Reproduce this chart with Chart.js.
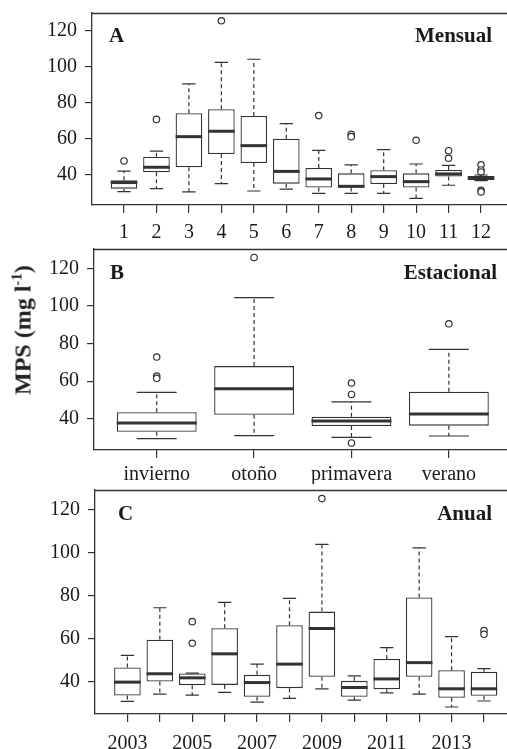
<!DOCTYPE html>
<html><head><meta charset="utf-8">
<script src="https://cdn.jsdelivr.net/npm/chart.js@4"></script>
<style>
html,body{margin:0;padding:0;background:#fff;width:507px;height:749px;overflow:hidden;position:relative;}
canvas{position:absolute;left:0;}
#ytitle{position:absolute;left:23px;top:330px;transform:translate(-50%,-50%) rotate(-90deg);font:bold 24px "Liberation Serif";white-space:nowrap;color:#222;}
#ytitle sup{font-size:15px;vertical-align:9px;line-height:0;}
</style></head><body>
<canvas id="cA" width="507" height="245" style="top:0px"></canvas>
<canvas id="cB" width="507" height="239" style="top:245px"></canvas>
<canvas id="cC" width="507" height="265" style="top:484px"></canvas>
<div id="ytitle">MPS (mg l<sup>-1</sup>)</div>
<script>
// ---- data ----
const yTicks = [40, 60, 80, 100, 120];

const monthLabels = ['1','2','3','4','5','6','7','8','9','10','11','12'];
const monthLow  = [30.8, 32.4, 30.6, 35.2, 31.1, 32.2, 29.8, 29.8, 29.8, 27.0, 34.3, 36.9];
const monthQ1   = [32.4, 41.5, 44.3, 51.7, 46.7, 35.2, 33.0, 33.0, 35.0, 33.0, 39.1, 37.2];
const monthMed  = [35.8, 44.3, 61.3, 64.3, 56.3, 42.0, 37.8, 33.7, 39.1, 36.3, 40.6, 38.3];
const monthQ3   = [37.1, 50.2, 74.3, 76.5, 72.8, 60.2, 43.9, 40.9, 42.6, 40.9, 42.8, 39.4];
const monthHigh = [42.2, 53.3, 90.6, 102.6, 104.3, 68.5, 53.7, 45.6, 54.1, 46.1, 45.4, 40.0];
const monthOut  = [[47.8],[70.9],[],[125.7],[],[],[73.0],[62.6,61.3],[],[59.3],[53.5,49.3],[45.7,42.8,41.7,31.5,30.6]];

const seasonLabels = ['invierno','otoño','primavera','verano'];
const seasonLow  = [29.4, 31.0, 30.1, 30.8];
const seasonQ1   = [33.1, 42.1, 36.1, 36.3];
const seasonMed  = [37.7, 56.0, 38.8, 42.5];
const seasonQ3   = [43.4, 68.0, 41.1, 54.4];
const seasonHigh = [54.0, 104.4, 49.0, 76.9];
const seasonOut  = [[72.8,62.7,61.5],[125.8],[59.0,52.9,27.1],[90.5]];

const yearLabels = ['2003','2004','2005','2006','2007','2008','2009','2010','2011','2012','2013','2014'];
const yearLow  = [30.7, 34.1, 33.6, 34.9, 30.4, 32.1, 36.6, 31.3, 34.7, 34.1, 28.1, 30.9];
const yearQ1   = [33.5, 40.0, 38.3, 38.4, 32.9, 36.9, 42.2, 32.9, 36.4, 42.2, 32.4, 33.3];
const yearMed  = [39.7, 43.6, 41.7, 52.9, 39.5, 48.1, 64.7, 37.2, 41.2, 48.8, 36.6, 36.6];
const yearQ3   = [46.5, 59.5, 43.7, 64.8, 43.1, 66.2, 72.6, 40.3, 50.5, 79.2, 45.3, 44.5];
const yearHigh = [52.2, 74.4, 43.9, 76.9, 48.1, 78.8, 103.9, 42.6, 55.8, 102.3, 60.9, 46.0];
const yearOut  = [[],[],[67.9,57.8],[],[],[],[125.3],[],[],[],[],[63.7,62.0]];

// ---- drawing ----
const INK = '#333';
const TXT = '#1a1a1a';
const FONT = 'Liberation Serif';
const panelInfo = {};

const boxPlugin = {
  id: 'boxDecor',
  afterDatasetsDraw(chart) {
    const info = panelInfo[chart.canvas.id];
    if (!info) return;
    const st = info.stats;
    const {ctx, scales: {x, y}} = chart;
    const meta = chart.getSortedVisibleDatasetMetas().find(m => m.type === 'bar');
    ctx.save();
    ctx.strokeStyle = INK;
    meta.data.forEach((bar, i) => {
      const cx = x.getPixelForValue(i + 1);
      const w = bar.width;
      const cap = w / 4;
      const pLo = y.getPixelForValue(st.low[i]);
      const pQ1 = y.getPixelForValue(st.q1[i]);
      const pQ3 = y.getPixelForValue(st.q3[i]);
      const pHi = y.getPixelForValue(st.high[i]);
      const pMed = y.getPixelForValue(st.med[i]);
      ctx.lineWidth = 1.2;
      ctx.setLineDash([4, 3]);
      ctx.beginPath();
      ctx.moveTo(cx, pQ3); ctx.lineTo(cx, pHi);
      ctx.moveTo(cx, pQ1); ctx.lineTo(cx, pLo);
      ctx.stroke();
      ctx.setLineDash([]);
      ctx.beginPath();
      ctx.moveTo(cx - cap, pHi); ctx.lineTo(cx + cap, pHi);
      ctx.moveTo(cx - cap, pLo); ctx.lineTo(cx + cap, pLo);
      ctx.stroke();
      ctx.lineWidth = 3;
      ctx.beginPath();
      ctx.moveTo(cx - w / 2, pMed); ctx.lineTo(cx + w / 2, pMed);
      ctx.stroke();
    });
    ctx.restore();
  },
  afterDraw(chart) {
    const info = panelInfo[chart.canvas.id];
    if (!info) return;
    const g = info.geom;
    const {ctx, chartArea} = chart;
    ctx.save();
    ctx.strokeStyle = INK;
    ctx.lineWidth = 1.3;
    ctx.beginPath();
    ctx.moveTo(chartArea.left, chartArea.top + 0.5);
    ctx.lineTo(chartArea.right, chartArea.top + 0.5);
    ctx.stroke();
    ctx.fillStyle = TXT;
    ctx.font = 'bold 21px "' + FONT + '"';
    ctx.textBaseline = 'middle';
    ctx.textAlign = 'left';
    ctx.fillText(g.letter, chartArea.left + g.letterDx, chartArea.top + g.textDy);
    ctx.textAlign = 'right';
    ctx.fillText(g.name, g.nameRight, chartArea.top + g.textDy);
    ctx.restore();
  }
};

function makePanel(id, labels, low, q1, med, q3, high, out, g) {
  panelInfo[id] = {stats: {low, q1, med, q3, high}, geom: g};
  const boxes = labels.map((l, i) => ({x: i + 1, y: [q1[i], q3[i]]}));
  const pts = [];
  out.forEach((arr, i) => arr.forEach(v => pts.push({x: i + 1, y: v})));
  new Chart(document.getElementById(id), {
    type: 'bar',
    data: {
      datasets: [
        {type: 'scatter', data: pts, pointRadius: 3.2, pointHoverRadius: 3.2, pointBorderWidth: 1.2,
         pointBorderColor: INK, pointBackgroundColor: '#fff'},
        {type: 'bar', data: boxes, backgroundColor: '#fff', borderColor: INK, borderWidth: 1.3,
         borderSkipped: false, barPercentage: 0.82, categoryPercentage: 1, grouped: false}
      ]
    },
    options: {
      responsive: false, animation: false, events: [],
      layout: {autoPadding: false, padding: {top: g.top, left: 0, right: 0, bottom: 0}},
      plugins: {legend: {display: false}, tooltip: {enabled: false}},
      scales: {
        x: {
          type: 'linear', min: g.xMin, max: g.xMax, offset: false,
          afterBuildTicks: s => { s.ticks = labels.map((_, i) => ({value: i + 1})); },
          afterFit: s => { s.height = g.xH; s.paddingLeft = 0; s.paddingRight = 0; },
          ticks: {autoSkip: false, maxRotation: 0, minRotation: 0, padding: g.xPad, color: TXT,
                  font: {family: FONT, size: 20},
                  callback: (v, i) => (g.skip && i % 2) ? '' : labels[i]},
          grid: {drawOnChartArea: false, offset: false, tickLength: 8, color: INK, lineWidth: 1.2},
          border: {display: true, color: INK, width: 1.3}
        },
        y: {
          type: 'linear', min: g.yMin, max: g.yMax,
          afterBuildTicks: s => { s.ticks = yTicks.map(v => ({value: v})); },
          afterFit: s => { s.width = g.yW; s.paddingTop = 0; s.paddingBottom = 0; },
          ticks: {padding: 8, color: TXT, font: {family: FONT, size: 20}},
          grid: {drawOnChartArea: false, tickLength: 7, color: INK, lineWidth: 1.2},
          border: {display: true, color: INK, width: 1.3}
        }
      }
    },
    plugins: [boxPlugin]
  });
}

makePanel('cA', monthLabels, monthLow, monthQ1, monthMed, monthQ3, monthHigh, monthOut,
  {top: 13, yW: 92, xH: 40, xMin: 0.014, xMax: 12.80, yMin: 23.33, yMax: 130, xPad: 8, skip: false,
   letter: 'A', name: 'Mensual', letterDx: 17, textDy: 24, nameRight: 492});
makePanel('cB', seasonLabels, seasonLow, seasonQ1, seasonMed, seasonQ3, seasonHigh, seasonOut,
  {top: 4, yW: 94, xH: 34, xMin: 0.356, xMax: 4.597, yMin: 23.35, yMax: 130.3, xPad: 5, skip: false,
   letter: 'B', name: 'Estacional', letterDx: 16, textDy: 25, nameRight: 497});
makePanel('cC', yearLabels, yearLow, yearQ1, yearMed, yearQ3, yearHigh, yearOut,
  {top: 6, yW: 95, xH: 35, xMin: 0.0, xMax: 12.71, yMin: 24.84, yMax: 129.3, xPad: 10, skip: true,
   letter: 'C', name: 'Anual', letterDx: 23, textDy: 25, nameRight: 492});
</script>
</body></html>
